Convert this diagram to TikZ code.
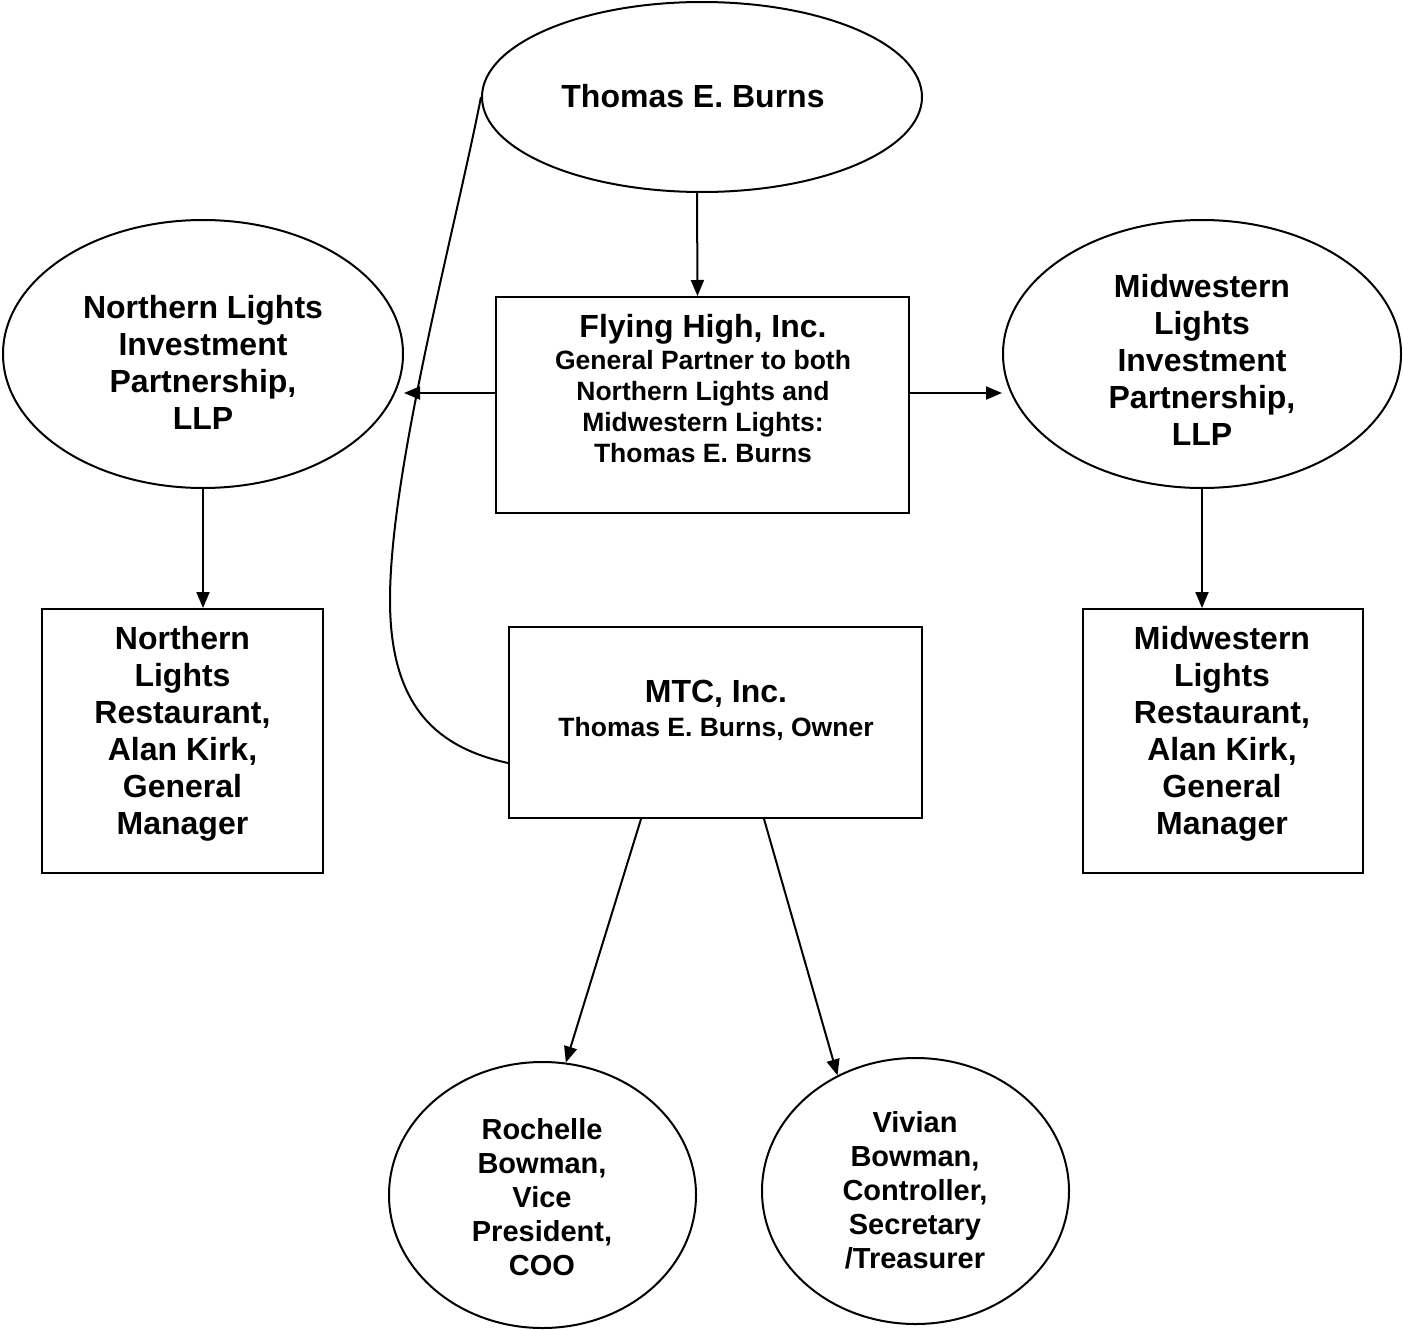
\documentclass[tikz,border=0pt]{standalone}
\usepackage{fontspec}
\setmainfont{Liberation Sans}
\usetikzlibrary{shapes.geometric,arrows.meta}
\begin{document}
\begin{tikzpicture}[x=1pt,y=-1pt,
  shp/.style={draw, line width=2pt, inner sep=0pt},
  ell/.style={shp, ellipse},
  boxs/.style={shp, rectangle},
  big/.style={font=\bfseries\fontsize{32}{37}\selectfont, align=center, inner sep=0pt},
  mid/.style={font=\bfseries\fontsize{29}{34}\selectfont, align=center, inner sep=0pt},
  sml/.style={font=\bfseries\fontsize{26.5}{31}\selectfont, align=center, inner sep=0pt},
  arr/.style={line width=2pt, -{Triangle[length=16pt,width=13pt]}},
  conn/.style={line width=2pt}]
\useasboundingbox (0,0) rectangle (1403,1330);
% shapes
\node[ell, minimum width=440pt, minimum height=190pt] (thomas) at (702,97) {};
\node[boxs, minimum width=413pt, minimum height=216pt] (flying) at (702.5,405) {};
\node[ell, minimum width=400pt, minimum height=268pt] (nl) at (203,354) {};
\node[ell, minimum width=398pt, minimum height=268pt] (mw) at (1202,354) {};
\node[boxs, minimum width=281pt, minimum height=264pt] (nlr) at (182.5,741) {};
\node[boxs, minimum width=280pt, minimum height=264pt] (mwr) at (1223,741) {};
\node[boxs, minimum width=413pt, minimum height=191pt] (mtc) at (715.5,722.5) {};
\node[ell, minimum width=307pt, minimum height=266pt] (roch) at (542.5,1195) {};
\node[ell, minimum width=307pt, minimum height=266pt] (viv) at (915.5,1191) {};
% texts
\node[big] (thomasT) at (693,96) {Thomas E. Burns};
\node[big] (flyingT) at (703,329) {Flying High, Inc.};
\node[sml] (flyingS) at (703,407) {General Partner to both\\Northern Lights and\\Midwestern Lights:\\Thomas E. Burns};
\node[big] (nlT) at (203,362) {Northern Lights\\Investment\\Partnership,\\LLP};
\node[big] (mwT) at (1202,359.5) {Midwestern\\Lights\\Investment\\Partnership,\\LLP};
\node[big] (nlrT) at (182.5,734) {Northern\\Lights\\Restaurant,\\Alan Kirk,\\General\\Manager};
\node[big] (mwrT) at (1222,734) {Midwestern\\Lights\\Restaurant,\\Alan Kirk,\\General\\Manager};
\node[big] (mtcT) at (716,694) {MTC, Inc.};
\node[sml] (mtcS) at (716,729) {Thomas E. Burns, Owner};
\node[mid] (rochT) at (542,1197) {Rochelle\\Bowman,\\Vice\\President,\\COO};
\node[mid] (vivT) at (915,1190) {Vivian\\Bowman,\\Controller,\\Secretary\\/Treasurer};
% connectors
\draw[arr] ([xshift=-5pt]thomas.south) -- ([xshift=-5pt]flying.north);
\draw[arr] ([yshift=12pt]flying.west) -- ([yshift=12pt]flying.west -| nl.east);
\draw[arr] ([yshift=12pt]flying.east) -- ([yshift=12pt]flying.east -| mw.west);
\draw[arr] (nl.south) -- (nl.south |- nlr.north);
\draw[arr] (mw.south) -- (mw.south |- mwr.north);
\draw[arr] ([xshift=-74.5pt]mtc.south) -- (roch.80);
\draw[arr] ([xshift=48.5pt]mtc.south) -- (viv.124);
\draw[conn] (thomas.west) .. controls (455,230) and (390,470) .. (390,600)
  .. controls (390,710) and (440,748) .. ([yshift=-40.5pt]mtc.west);
\end{tikzpicture}
\end{document}
